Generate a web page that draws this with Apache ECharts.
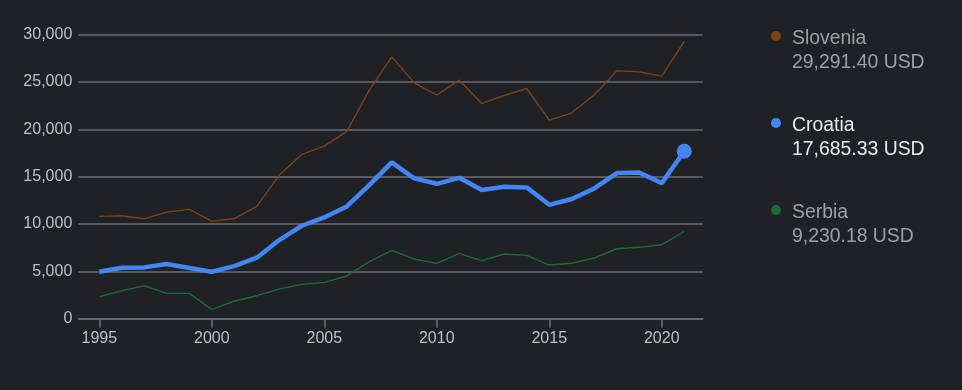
<!DOCTYPE html>
<html>
<head>
<meta charset="utf-8">
<script src="https://cdn.jsdelivr.net/npm/echarts@6/dist/echarts.min.js"></script>
<style>
  html, body { margin: 0; padding: 0; background: #202124; }
  #chart { width: 962px; height: 390px; }
</style>
</head>
<body>
<div id="chart"></div>
<script>
const years = [1995,1996,1997,1998,1999,2000,2001,2002,2003,2004,2005,2006,2007,2008,2009,2010,2011,2012,2013,2014,2015,2016,2017,2018,2019,2020,2021];
const slovenia = [10810,10870,10560,11260,11550,10310,10560,11860,15170,17350,18230,19780,24140,27660,24910,23610,25200,22740,23580,24320,20980,21750,23650,26180,26070,25620,29291.40];
const croatia = [4960,5380,5420,5770,5350,4960,5560,6440,8310,9820,10700,11860,14110,16510,14820,14250,14880,13590,13930,13870,12030,12640,13760,15380,15450,14320,17685.33];
const serbia = [2320,2960,3480,2680,2680,990,1840,2430,3140,3630,3840,4510,6020,7220,6300,5850,6900,6120,6830,6690,5670,5850,6410,7390,7540,7810,9230.18];
const countries = ['Slovenia','Croatia','Serbia'];
const xTickYears = [1995,2000,2005,2010,2015,2020];
const unit = 'USD';

const seriesData = [slovenia, croatia, serbia];
const colors = ['#7a4419', '#4285f4', '#1e6b37'];
const widths = [1.4, 4.5, 1.4];
const highlighted = 1;

const fontFamily = 'Liberation Sans, Arial, sans-serif';
const chart = echarts.init(document.getElementById('chart'), null, {renderer: 'canvas'});

const series = seriesData.map((arr, i) => ({
  name: countries[i],
  type: 'line',
  data: years.map((y, j) => [y, arr[j]]),
  lineStyle: { color: colors[i], width: widths[i] },
  itemStyle: { color: colors[i] },
  symbol: 'circle',
  showSymbol: true,
  showAllSymbol: true,
  symbolSize: (v, p) => (i === highlighted && p.dataIndex === years.length - 1) ? 15 : 0,
  z: i === highlighted ? 3 : 2,
  silent: true
}));

const legendTop = [36, 123, 210];
const graphic = [];
countries.forEach((c, i) => {
  const arr = seriesData[i];
  const last = arr[arr.length - 1];
  const txtColor = i === highlighted ? '#e8eaed' : '#9aa0a6';
  graphic.push({
    type: 'circle', shape: { cx: 776, cy: legendTop[i], r: 5 },
    style: { fill: colors[i] }
  });
  graphic.push({
    type: 'text', x: 792, y: legendTop[i] + 2.5,
    style: { text: c, fill: txtColor, font: '19.4px ' + fontFamily, textVerticalAlign: 'middle' }
  });
  graphic.push({
    type: 'text', x: 792, y: legendTop[i] + 26.5,
    style: {
      text: last.toLocaleString('en-US', {minimumFractionDigits: 2, maximumFractionDigits: 2}) + ' ' + unit,
      fill: txtColor, font: '19.4px ' + fontFamily, textVerticalAlign: 'middle'
    }
  });
});

chart.setOption({
  backgroundColor: '#202124',
  animation: false,
  textStyle: { fontFamily: fontFamily },
  grid: { left: 78.3, right: 259.3, top: 34.7, bottom: 71.3, containLabel: false },
  xAxis: {
    type: 'value',
    min: 1994.067,
    max: 2021.82,
    axisLine: { show: true, lineStyle: { color: '#6b6e72', width: 1.5 } },
    axisTick: { show: true, length: 9, customValues: xTickYears, lineStyle: { color: '#6b6e72', width: 1.5 } },
    axisLabel: { customValues: xTickYears, color: '#bdc1c6', fontSize: 16, margin: 12, fontFamily: fontFamily, formatter: v => String(v) },
    splitLine: { show: false }
  },
  yAxis: {
    type: 'value',
    min: 0,
    max: 30000,
    interval: 5000,
    axisLine: { show: false },
    axisTick: { show: false },
    axisLabel: { color: '#bdc1c6', fontSize: 16, margin: 6, fontFamily: fontFamily, formatter: v => v.toLocaleString('en-US') },
    splitLine: { lineStyle: { color: '#6b6e72', width: 1.5 } }
  },
  series: series,
  graphic: graphic
});
</script>
</body>
</html>
